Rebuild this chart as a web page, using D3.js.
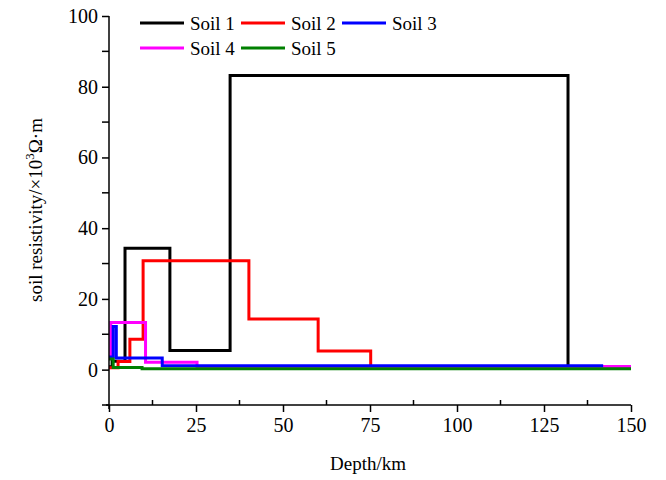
<!DOCTYPE html>
<html>
<head>
<meta charset="utf-8">
<script src="https://cdn.jsdelivr.net/npm/d3@7"></script>
<style>
  html, body { margin: 0; padding: 0; background: #fff; }
  svg { display: block; }
  text { font-family: "Liberation Serif", "Times New Roman", serif; fill: #000; }
</style>
</head>
<body>
<svg id="chart" width="666" height="480"></svg>
<script>
// Layer boundaries (km) and resistivity per layer (×10³ Ω·m)
const seriesNames = ["Soil 1", "Soil 2", "Soil 3", "Soil 4", "Soil 5"];
const seriesColors = ["#000000", "#ff0000", "#0000ff", "#ff00ff", "#008000"];

const soil1Depths = [0, 0.9, 4.6, 17.5, 34.8, 131.9, 150];
const soil1Values = [0.8, 2.4, 34.3, 5.4, 83.2, 0.7];

const soil2Depths = [0, 2.6, 6.0, 9.8, 40.2, 60.1, 75.2, 150];
const soil2Values = [0.5, 2.3, 8.6, 30.8, 14.3, 5.3, 0.7];

const soil3Depths = [0, 1.2, 2.1, 15.3, 142];
const soil3Values = [3.6, 12.2, 3.3, 1.1];

const soil4Depths = [0, 0.5, 10.5, 25.3, 150];
const soil4Values = [3.5, 13.3, 2.1, 0.9];

const soil5Depths = [0, 1.2, 9.5, 150];
const soil5Values = [3.0, 0.6, 0.25];

const xMajorTicks = [0, 25, 50, 75, 100, 125, 150];
const xMinorTicks = [12.5, 37.5, 62.5, 87.5, 112.5, 137.5];
const yMajorTicks = [0, 20, 40, 60, 80, 100];
const yMinorTicks = [-10, 10, 30, 50, 70, 90];

const depthSets = [soil1Depths, soil2Depths, soil3Depths, soil4Depths, soil5Depths];
const valueSets = [soil1Values, soil2Values, soil3Values, soil4Values, soil5Values];

const svg = d3.select("#chart");
const margin = { left: 109, right: 35, top: 16, bottom: 75 };
const W = 666, H = 480;

const x = d3.scaleLinear().domain([0, 150]).range([margin.left, W - margin.right]);
const y = d3.scaleLinear().domain([-10, 100]).range([H - margin.bottom, margin.top]);

// step profile: each layer holds its value from its top to its bottom boundary
function profile(depths, values) {
  const pts = values.map((v, i) => [depths[i], v]);
  pts.push([depths[depths.length - 1], values[values.length - 1]]);
  return pts;
}

const line = d3.line()
  .x(d => x(d[0]))
  .y(d => y(d[1]))
  .curve(d3.curveStepAfter);

// draw order: later series sit on top
const drawOrder = [0, 1, 3, 2, 4];
const plot = svg.append("g");
drawOrder.forEach(i => {
  plot.append("path")
    .attr("d", line(profile(depthSets[i], valueSets[i])))
    .attr("fill", "none")
    .attr("stroke", seriesColors[i])
    .attr("stroke-width", 3)
    .attr("stroke-linejoin", "miter");
});

// bottom axis: major ticks outward with labels, minor ticks inward
const xAxis = d3.axisBottom(x).tickValues(xMajorTicks).tickSize(7).tickPadding(6)
  .tickFormat(d3.format("d"));
const gx = svg.append("g").attr("transform", `translate(0,${y(-10)})`).call(xAxis);
gx.select(".domain").attr("d", `M${x(0) - 3},0H${x(150)}`).attr("stroke-width", 1.5);
gx.selectAll(".tick line").attr("stroke-width", 1.5);
gx.selectAll(".tick text").attr("font-size", 20);
gx.selectAll(".minor").data(xMinorTicks).enter().append("line")
  .attr("x1", d => x(d)).attr("x2", d => x(d))
  .attr("y1", 0).attr("y2", -5)
  .attr("stroke", "#000").attr("stroke-width", 1.5);

// left axis: labelled ticks every 20, plain ticks in between
const yAxis = d3.axisLeft(y).tickValues(yMajorTicks).tickSize(7).tickPadding(4)
  .tickFormat(d3.format("d"));
const gy = svg.append("g").attr("transform", `translate(${x(0)},0)`).call(yAxis);
gy.select(".domain").attr("d", `M0,${y(100)}V${y(-10) + 4}`).attr("stroke-width", 1.5);
gy.selectAll(".tick line").attr("stroke-width", 1.5);
gy.selectAll(".tick text").attr("font-size", 20);
gy.selectAll(".minor").data(yMinorTicks).enter().append("line")
  .attr("x1", 0).attr("x2", -7)
  .attr("y1", d => y(d)).attr("y2", d => y(d))
  .attr("stroke", "#000").attr("stroke-width", 1.5);

// axis titles
svg.append("text")
  .attr("x", 368).attr("y", 470)
  .attr("text-anchor", "middle")
  .attr("font-size", 19)
  .text("Depth/km");

const yTitle = svg.append("text")
  .attr("transform", `translate(42,${210}) rotate(-90)`)
  .attr("text-anchor", "middle")
  .attr("font-size", 19);
yTitle.append("tspan").text("soil resistivity/×10");
yTitle.append("tspan").attr("font-size", 13).attr("dy", -8).text("3");
yTitle.append("tspan").attr("dy", 8).text("Ω·m");

// legend, three per row
const legend = svg.append("g");
seriesNames.forEach((name, i) => {
  const col = i % 3, row = Math.floor(i / 3);
  const lx = 140 + col * 101, ly = 23 + row * 25;
  legend.append("line")
    .attr("x1", lx).attr("x2", lx + 44)
    .attr("y1", ly).attr("y2", ly)
    .attr("stroke", seriesColors[i]).attr("stroke-width", 3);
  legend.append("text")
    .attr("x", lx + 50).attr("y", ly + 7)
    .attr("font-size", 19)
    .text(name);
});
</script>
</body>
</html>
